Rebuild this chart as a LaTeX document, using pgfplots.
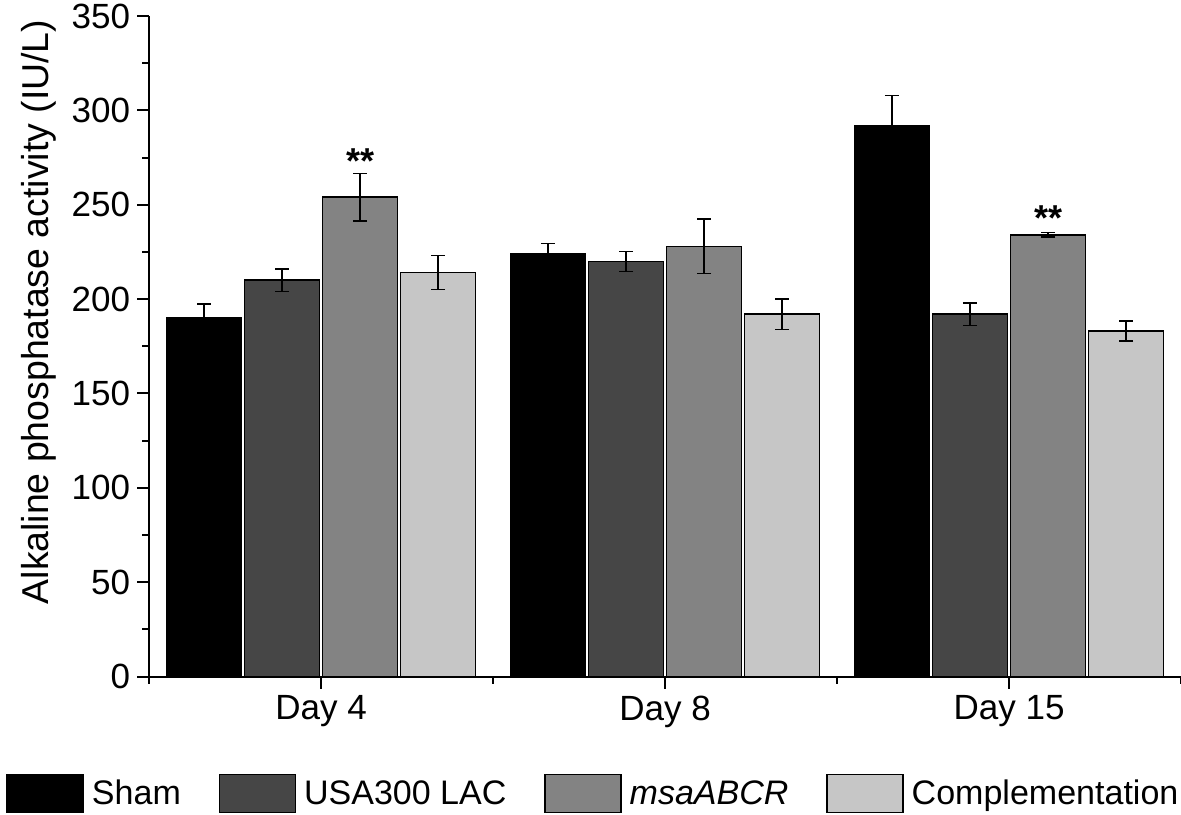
\documentclass[border=0pt]{standalone}
\usepackage{pgfplots}
\pgfplotsset{compat=1.18}
\usepackage{pgfplotstable}
\usepackage{fontspec}
\setmainfont{Liberation Sans}
\definecolor{cSham}{HTML}{000000}
\definecolor{cUSA}{HTML}{464646}
\definecolor{cMsa}{HTML}{838383}
\definecolor{cComp}{HTML}{C6C6C6}
\pgfplotstableread{
x sham shamerr usa usaerr msa msaerr comp comperr
0 190 7.5 210 6.0 254 12.5 214 9.0
1 224 5.5 220 5.3 228 14.5 192 8.0
2 292 16.0 192 6.0 234 1.2 183 5.3
}\datatable
\begin{document}
\begin{tikzpicture}
\begin{axis}[
  scale only axis,
  width=515.5pt, height=330pt,
  xmin=-0.5, xmax=2.5, ymin=0, ymax=350,
  ybar=1.5pt, bar width=37.5pt,
  axis x line=bottom, axis y line=left,
  axis line style={-, line width=1pt},
  tick style={line width=1pt, black},
  tick align=outside,
  major tick length=6pt, minor tick length=3.5pt,
  xtick={0,1,2}, xticklabels={Day 4, Day 8, Day 15},
  minor xtick={-0.5,0.5,1.5,2.5},
  ytick={0,50,...,350}, minor y tick num=1,
  /pgf/number format/assume math mode=true,
  font=\fontsize{17.5}{21}\selectfont,
  ticklabel style={font=\fontsize{17.5}{21}\selectfont},
  ylabel={Alkaline phosphatase activity (IU/L)},
  ylabel style={at={(axis description cs:-0.1065,0.552)}, anchor=center, rotate=0, font=\fontsize{18.7}{22}\selectfont},
  legend columns=4,
  legend style={at={(axis description cs:-0.1445,-0.1773)}, anchor=west, draw=none, fill=none,
    font=\fontsize{17}{20}\selectfont,
    /tikz/every odd column/.append style={column sep=2pt},
    /tikz/every even column/.append style={column sep=16.8pt}},
  legend image code/.code={\draw[#1, draw=black, line width=0.75pt] (0pt,-9.5pt) rectangle (38pt,9.5pt);},
  error bars/y dir=both, error bars/y explicit,
  error bars/error bar style={line width=0.75pt, black},
  error bars/error mark options={rotate=90, mark size=3.5pt, line width=0.75pt, black},
]
\addplot[fill=cSham, draw=black, line width=0.75pt] table[x=x, y=sham, y error=shamerr] {\datatable};
\addplot[fill=cUSA, draw=black, line width=0.75pt] table[x=x, y=usa, y error=usaerr] {\datatable};
\addplot[fill=cMsa, draw=black, line width=0.75pt] table[x=x, y=msa, y error=msaerr] {\datatable};
\addplot[fill=cComp, draw=black, line width=0.75pt] table[x=x, y=comp, y error=comperr] {\datatable};
\legend{Sham, USA300 LAC, \textit{msaABCR}, Complementation}
\node[font=\fontsize{18}{21}\selectfont\bfseries] at (axis cs:0,273) [xshift=19.5pt] {**};
\node[font=\fontsize{18}{21}\selectfont\bfseries] at (axis cs:2,243) [xshift=19.5pt] {**};
\end{axis}
\pgfresetboundingbox
\path[use as bounding box] ([xshift=-74.5pt,yshift=-69pt]current axis.south west) rectangle ([yshift=8pt]current axis.north east);
\end{tikzpicture}
\end{document}
